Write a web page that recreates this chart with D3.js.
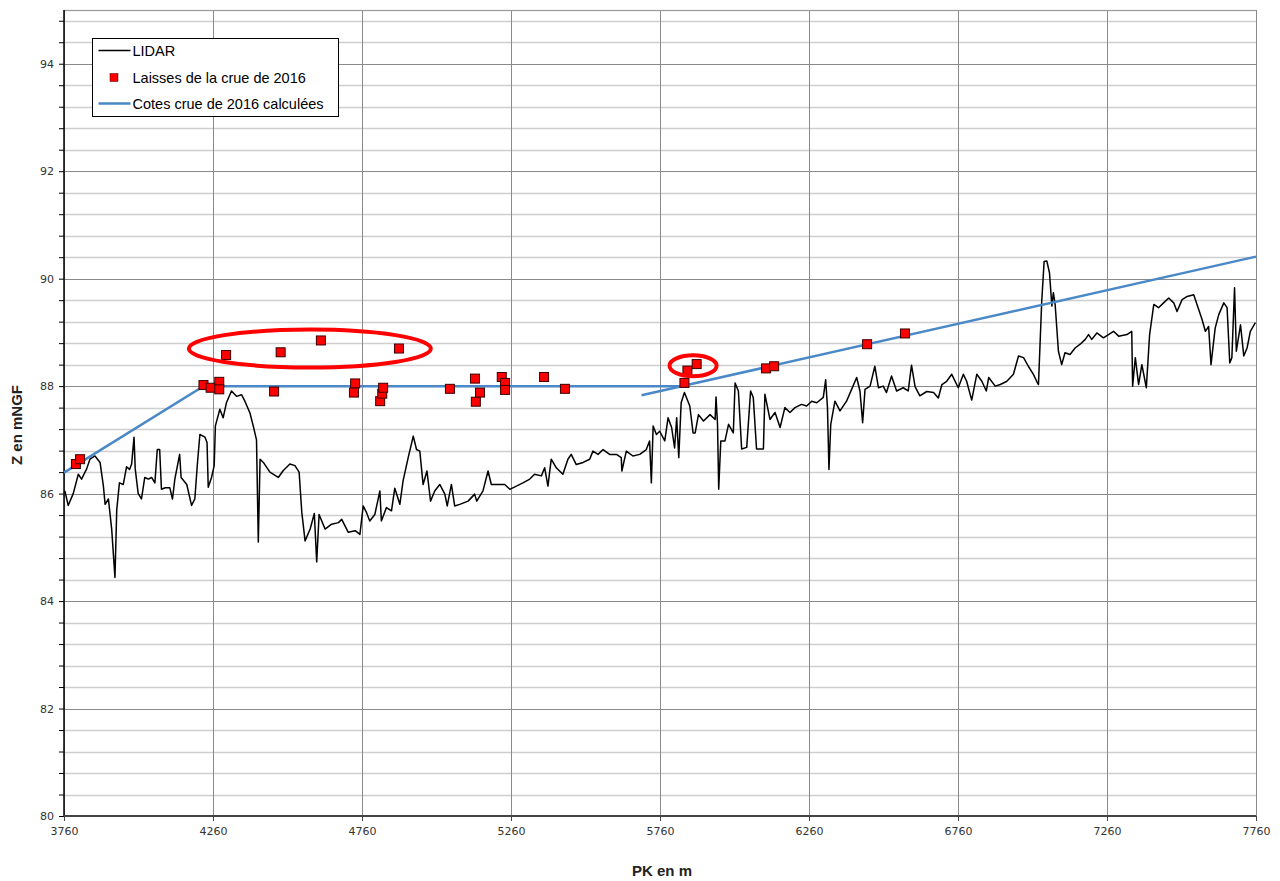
<!DOCTYPE html>
<html><head><meta charset="utf-8">
<script src="https://cdn.jsdelivr.net/npm/d3@7"></script>
<style>body{margin:0;background:#fff}</style>
</head><body><svg id="c" width="1280" height="881"></svg>
<script>
// ---- data ----
const lidarX = [3763,3774,3791,3808,3819,3836,3847,3864,3881,3892,3898,3909,3920,3931,3937,3946,3959,3970,3980,3987,3995,3999,4009,4020,4031,4043,4054,4065,4073,4081,4087,4100,4115,4124,4132,4148,4153,4172,4188,4199,4208,4216,4233,4240,4244,4255,4264,4268,4283,4294,4305,4322,4339,4356,4367,4384,4395,4406,4412,4418,4429,4451,4479,4496,4518,4535,4549,4558,4569,4586,4600,4608,4616,4636,4658,4681,4692,4714,4737,4753,
4764,4775,4786,4803,4820,4825,4842,4859,4870,4887,4898,4915,4932,4943,4954,4965,4978,4990,5004,5021,5038,5046,5060,5071,5088,5116,5138,5145,5166,5183,5194,5217,5239,5256,5278,5300,5323,5339,5362,5373,5384,5395,5412,5434,5451,5462,5479,5502,5524,5535,5552,5569,5591,5614,5630,5632,5647,5669,5692,5714,5725,5731,5737,5748,5759,5776,5787,5799,5809,5816,5823,5831,5842,5860,5871,5878,5889,5906,5928,5945,5948,5953,5957,5964,5978,5990,6006,6012,6023,6034,6051,6064,6073,6084,6107,6112,6129,6146,6163,6179,6196,6213,6235,6252,6269,6286,6308,6316,6322,6327,6333,6347,6364,6386,6403,6420,6431,6440,6448,6465,6481,6493,6509,6520,6537,6554,6576,6593,6604,6616,6632,6655,6678,6694,6706,6722,6739,6761,6778,6789,6806,6823,6840,6855,6863,6885,6902,6924,6946,6963,6980,6996,7013,7024,7030,7041,7049,7058,7067,7075,7080,7086,7097,7108,7119,7136,7153,7170,7187,7198,7209,7226,7248,7265,7282,7299,7327,7343,7346,7355,7366,7377,7392,7403,7417,7433,7450,7467,7484,7495,7512,7529,7551,7568,7579,7590,7601,7609,7623,7635,7652,7663,7672,7679,7688,7694,7708,7719,7730,7741,7758];
const lidarZ = [86.05,85.78,86.0,86.36,86.27,86.46,86.64,86.7,86.58,86.15,85.8,85.9,85.34,84.44,85.7,86.2,86.17,86.5,86.45,86.55,87.05,86.46,86.0,85.9,86.3,86.27,86.3,86.2,86.82,86.82,86.08,86.11,86.11,85.9,86.27,86.73,86.3,86.17,85.78,85.9,86.58,87.1,87.05,86.95,86.12,86.3,86.52,87.26,87.57,87.41,87.69,87.91,87.81,87.84,87.72,87.5,87.26,87.0,85.1,86.64,86.58,86.4,86.3,86.43,86.55,86.52,86.4,85.65,85.12,85.34,85.63,84.73,85.61,85.34,85.43,85.46,85.52,85.28,85.31,85.24,
85.77,85.65,85.49,85.61,86.05,85.49,85.74,85.68,86.1,85.8,86.24,86.67,87.07,86.82,86.79,86.17,86.42,85.86,86.05,86.17,85.99,85.77,86.17,85.77,85.8,85.86,85.99,85.86,86.05,86.42,86.17,86.17,86.17,86.08,86.14,86.2,86.27,86.36,86.33,86.48,86.14,86.64,86.48,86.36,86.64,86.73,86.54,86.58,86.64,86.79,86.73,86.82,86.73,86.73,86.67,86.42,86.79,86.7,86.73,86.82,86.98,86.2,87.26,87.1,87.16,86.98,87.41,87.23,86.85,87.41,86.67,87.69,87.88,87.63,87.13,87.13,87.47,87.35,87.47,87.38,87.8,87.29,86.08,86.98,86.98,87.29,87.13,88.06,87.91,86.83,86.86,87.91,87.79,86.83,86.83,87.85,87.38,87.51,87.23,87.6,87.51,87.6,87.66,87.63,87.72,87.69,87.79,88.12,87.6,86.45,87.29,87.72,87.54,87.72,87.94,88.16,87.91,87.32,87.94,88.0,88.37,87.97,88.0,87.88,88.19,87.91,87.97,87.91,88.39,87.99,87.82,87.9,87.88,87.78,88.03,88.09,88.22,87.97,88.22,88.09,87.74,88.22,88.09,87.91,88.16,88.0,88.03,88.09,88.22,88.56,88.53,88.37,88.22,88.09,88.03,89.58,90.32,90.33,90.11,89.49,89.74,89.52,88.65,88.4,88.62,88.59,88.71,88.78,88.87,88.96,88.87,88.99,88.9,88.96,89.02,88.93,88.96,89.02,88.0,88.53,88.03,88.4,87.97,88.96,89.52,89.46,89.55,89.64,89.55,89.39,89.61,89.67,89.7,89.42,89.24,89.02,89.11,88.4,89.08,89.33,89.55,89.46,88.43,88.53,89.83,88.65,89.14,88.56,88.71,89.02,89.18];

const laissesX = [3800,3814,4228,4252,4281,4281,4304,4465,4487,4622,4737,4733,4821,4828,4831,4884,5055,5139,5142,5156,5229,5240,5240,5371,5441,5842,5852,5883,6116,6143,6455,6582];
const laissesZ = [86.55,86.64,88.02,87.97,88.08,87.94,88.58,87.90,88.63,88.85,88.05,87.88,87.72,87.86,87.97,88.70,87.95,88.14,87.71,87.88,88.17,88.06,87.93,88.17,87.95,88.06,88.29,88.41,88.33,88.37,88.78,88.98];

const cotesSeg1X = [3760, 4228, 5842];
const cotesSeg1Z = [86.39, 88.0, 88.0];
const cotesSeg2X = [5698, 7760];
const cotesSeg2Z = [87.83, 90.41];

// annotation ellipses (centre and half-axes in data units)
const ellipseX = [4585, 5871];
const ellipseZ = [88.70, 88.38];
const ellipseRX = [406, 79];
const ellipseRZ = [0.353, 0.195];

const xTicks = [3760,4260,4760,5260,5760,6260,6760,7260,7760];
const yTicks = [80,82,84,86,88,90,92,94];
const yMinorTicks = [80,80.4,80.8,81.2,81.6,82,82.4,82.8,83.2,83.6,84,84.4,84.8,85.2,85.6,86,86.4,86.8,87.2,87.6,88,88.4,88.8,89.2,89.6,90,90.4,90.8,91.2,91.6,92,92.4,92.8,93.2,93.6,94,94.4,94.8];

const legendLabels = ["LIDAR", "Laisses de la crue de 2016", "Cotes crue de 2016 calculées"];
const xTitle = "PK en m";
const yTitle = "Z en mNGF";

// ---- chart ----
const W = 1280, H = 881;
const m = {left: 64, right: 24, top: 10, bottom: 65};
const svg = d3.select("#c");
const x = d3.scaleLinear().domain([3760, 7760]).range([m.left, W - m.right]);
const y = d3.scaleLinear().domain([80, 95]).range([H - m.bottom, m.top]);

const g = svg.append("g");
// minor horizontal grid
g.selectAll("line.minor").data(yMinorTicks.filter(v => !yTicks.includes(v)).concat([95]))
  .join("line").attr("class","minor")
  .attr("x1", x(3760)).attr("x2", x(7760))
  .attr("y1", d => Math.round(y(d)) + 0.5).attr("y2", d => Math.round(y(d)) + 0.5)
  .attr("stroke", "#cfcfcf").attr("stroke-width", 1.5);
// major horizontal grid
g.selectAll("line.major").data(yTicks)
  .join("line").attr("class","major")
  .attr("x1", x(3760)).attr("x2", x(7760))
  .attr("y1", d => Math.round(y(d)) + 0.5).attr("y2", d => Math.round(y(d)) + 0.5)
  .attr("stroke", "#8a8a8a").attr("stroke-width", 1);
// vertical grid
g.selectAll("line.vgrid").data(xTicks)
  .join("line").attr("class","vgrid")
  .attr("x1", d => Math.round(x(d)) + 0.5).attr("x2", d => Math.round(x(d)) + 0.5)
  .attr("y1", y(95)).attr("y2", y(80))
  .attr("stroke", "#8a8a8a").attr("stroke-width", 1);
// top border
g.append("line").attr("x1", x(3760)).attr("x2", x(7760)).attr("y1", Math.round(y(95))+0.5).attr("y2", Math.round(y(95))+0.5)
  .attr("stroke", "#9a9a9a").attr("stroke-width", 1);

// axes
const yAxis = d3.axisLeft(y).tickValues(yMinorTicks).tickSize(5)
  .tickFormat(d => yTicks.includes(d) ? d3.format("d")(d) : "");
const ya = svg.append("g").attr("transform", `translate(${x(3760)},0)`).call(yAxis);
ya.select(".domain").attr("stroke", "#000").attr("stroke-width", 1.5).attr("d", `M0,${y(95)}V${y(80)}`);
ya.selectAll(".tick line").attr("stroke", "#000");
ya.selectAll("text").attr("font-family", "DejaVu Sans").attr("font-size", 11).attr("fill", "#333").attr("dx", "-2");

const xAxis = d3.axisBottom(x).tickValues(xTicks).tickSize(5).tickFormat(d3.format("d"));
const xa = svg.append("g").attr("transform", `translate(0,${y(80)})`).call(xAxis);
xa.select(".domain").attr("stroke", "#444").attr("stroke-width", 2).attr("d", `M${x(3760)},0H${x(7760)}`);
xa.selectAll(".tick line").attr("stroke", "#444");
xa.selectAll("text").attr("font-family", "DejaVu Sans").attr("font-size", 11).attr("fill", "#333").attr("dy", "1.0em");

// titles
svg.append("text").attr("x", (x(3760)+x(7760))/2 + 2).attr("y", 876)
  .attr("text-anchor", "middle").attr("font-family", "Liberation Sans").attr("font-weight", "bold")
  .attr("font-size", 15).attr("fill", "#222").text(xTitle);
svg.append("text").attr("transform", `translate(21.5,425) rotate(-90)`)
  .attr("text-anchor", "middle").attr("font-family", "Liberation Sans").attr("font-weight", "bold")
  .attr("font-size", 15).attr("fill", "#222").text(yTitle);

// LIDAR line
const lidar = lidarX.map((v, i) => [v, lidarZ[i]]);
const line = d3.line().x(d => x(d[0])).y(d => y(d[1]));
svg.append("path").datum(lidar).attr("d", line)
  .attr("fill", "none").attr("stroke", "#000").attr("stroke-width", 1.5).attr("stroke-linejoin", "round");

// calculated levels
const blue = "#4a88c7";
[[cotesSeg1X, cotesSeg1Z], [cotesSeg2X, cotesSeg2Z]].forEach(([xs, zs]) => {
  svg.append("path").datum(xs.map((v, i) => [v, zs[i]])).attr("d", line)
    .attr("fill", "none").attr("stroke", blue).attr("stroke-width", 2.5);
});

// laisses
const s = 9;
svg.append("g").selectAll("rect").data(laissesX.map((v, i) => [v, laissesZ[i]]))
  .join("rect")
  .attr("x", d => x(d[0]) - s/2).attr("y", d => y(d[1]) - s/2)
  .attr("width", s).attr("height", s)
  .attr("fill", "#ff0000").attr("stroke", "#3a0000").attr("stroke-width", 1);

// annotation ellipses
svg.append("g").selectAll("ellipse").data(ellipseX.map((v, i) => i))
  .join("ellipse")
  .attr("cx", i => x(ellipseX[i])).attr("cy", i => y(ellipseZ[i]))
  .attr("rx", i => x(ellipseX[i] + ellipseRX[i]) - x(ellipseX[i]))
  .attr("ry", i => y(ellipseZ[i]) - y(ellipseZ[i] + ellipseRZ[i]))
  .attr("fill", "none").attr("stroke", "#ff0000").attr("stroke-width", 4);

// legend
const lg = svg.append("g").attr("transform", "translate(92.5,38.5)");
lg.append("rect").attr("width", 246).attr("height", 78).attr("fill", "#fff").attr("stroke", "#000").attr("stroke-width", 1);
const rows = [12, 39, 65];
lg.append("line").attr("x1", 6).attr("x2", 38).attr("y1", rows[0]).attr("y2", rows[0]).attr("stroke", "#000").attr("stroke-width", 1.5);
lg.append("rect").attr("x", 21.5 - 4).attr("y", rows[1] - 4).attr("width", 8).attr("height", 8).attr("fill", "#ff0000").attr("stroke", "#3a0000").attr("stroke-width", 0.5);
lg.append("line").attr("x1", 6).attr("x2", 38).attr("y1", rows[2]).attr("y2", rows[2]).attr("stroke", blue).attr("stroke-width", 2.5);
lg.selectAll("text").data(legendLabels).join("text")
  .attr("x", 40).attr("y", (d, i) => rows[i] + 5)
  .attr("font-family", "Liberation Sans").attr("font-size", 14.5).attr("fill", "#000")
  .text(d => d);
</script></body></html>
